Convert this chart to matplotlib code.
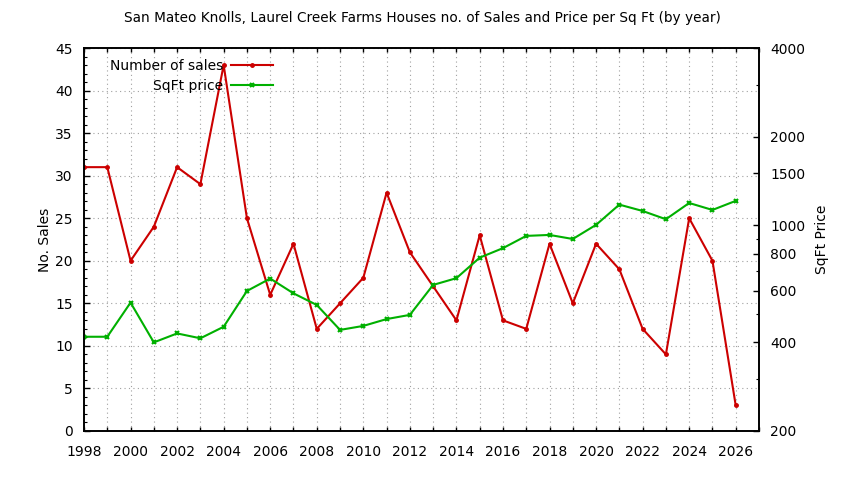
import numpy as np
import matplotlib
matplotlib.use('Agg')
import matplotlib.pyplot as plt
from matplotlib.ticker import FixedLocator, FixedFormatter, NullFormatter, MultipleLocator

# ---- du lieu doc tu hinh ----
years = list(range(1998, 2027))
sales = [31, 31, 20, 24, 31, 29, 43, 25, 16, 22, 12, 15, 18, 28, 21, 17,
         13, 23, 13, 12, 22, 15, 22, 19, 12, 9, 25, 20, 3]
sqft_price = [418, 418, 546, 400, 429, 413, 452, 598, 659, 587, 536, 441, 455, 480,
              496, 627, 661, 776, 836, 920, 927, 898, 1003, 1175, 1118, 1048, 1190,
              1127, 1210]

right_major = [200, 400, 600, 800, 1000, 1500, 2000, 4000]
right_minor = [300, 500, 700, 900, 3000]

title = "San Mateo Knolls, Laurel Creek Farms Houses no. of Sales and Price per Sq Ft (by year)"

plt.rcParams['font.family'] = ['DejaVu Sans']
plt.rcParams['font.size'] = 10

RED = '#cc0000'
GREEN = '#00b000'

fig = plt.figure(figsize=(8.44, 4.8), dpi=100)
ax = fig.add_axes([84/844, 1 - 431/480, (759-84)/844, (431-48)/480])
ax2 = ax.twinx()

l1, = ax.plot(years, sales, color=RED, lw=1.5, marker='o', ms=2.5, label='Number of sales')
l2, = ax2.plot(years, sqft_price, color=GREEN, lw=1.5, marker='x', ms=3.5, mew=1.5,
               label='SqFt price')

# ---- truc trai ----
ax.set_xlim(1998, 2027)
ax.set_ylim(0, 45)
ax.yaxis.set_major_locator(MultipleLocator(5))
ax.yaxis.set_minor_locator(MultipleLocator(1))
ax.xaxis.set_major_locator(MultipleLocator(2))
ax.xaxis.set_minor_locator(MultipleLocator(1))
ax.set_ylabel('No. Sales', labelpad=2)

ax.tick_params(axis='y', which='major', direction='in', length=4, width=1, left=True, right=False, pad=8)
ax.tick_params(axis='y', which='minor', direction='in', length=2, width=0.8, left=True, right=False)
ax.tick_params(axis='x', which='both', direction='in', length=3, width=1, top=True, bottom=True)
ax.tick_params(axis='x', which='major', pad=10)

ax.grid(True, which='major', axis='y', color='#a0a0a0', lw=0.8, linestyle=(0, (1, 3)))
ax.grid(True, which='both', axis='x', color='#a0a0a0', lw=0.8, linestyle=(0, (1, 3)))

# ---- truc phai (log) ----
ax2.set_yscale('log')
ax2.set_ylim(200, 4000)
ax2.yaxis.set_major_locator(FixedLocator(right_major))
ax2.yaxis.set_major_formatter(FixedFormatter([str(v) for v in right_major]))
ax2.yaxis.set_minor_locator(FixedLocator(right_minor))
ax2.yaxis.set_minor_formatter(NullFormatter())
ax2.tick_params(axis='y', which='major', direction='in', length=4, width=1, pad=8)
ax2.tick_params(axis='y', which='minor', direction='in', length=2, width=0.8)
ax2.set_ylabel('SqFt Price', labelpad=7)

for a in (ax, ax2):
    for s in a.spines.values():
        s.set_linewidth(1.2)

fig.text(0.5, 1 - 18/480, title, ha='center', va='center', fontsize=9.8)

ax.legend([l1, l2], ['Number of sales', 'SqFt price'], loc='upper left',
          bbox_to_anchor=(0.022, 1.0), frameon=False, markerfirst=False,
          handlelength=3.0, handletextpad=0.58, labelspacing=0.45, borderpad=0.3)

fig.savefig('out.png', dpi=100)
